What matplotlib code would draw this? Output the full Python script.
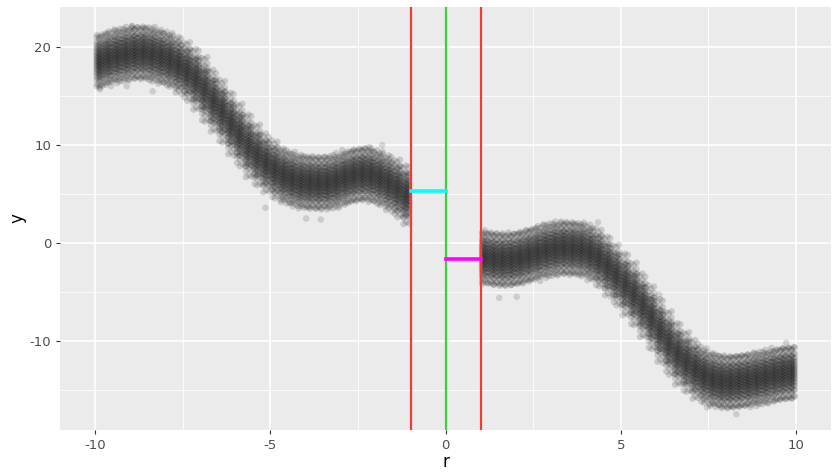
import numpy as np
import matplotlib
matplotlib.use("Agg")
import matplotlib.pyplot as plt

# trend of the point cloud (step 0.25)
x_left = [-10.00, -9.75, -9.50, -9.25, -9.00, -8.75, -8.50, -8.25, -8.00, -7.75,
          -7.50, -7.25, -7.00, -6.75, -6.50, -6.25, -6.00, -5.75, -5.50, -5.25,
          -5.00, -4.75, -4.50, -4.25, -4.00, -3.75, -3.50, -3.25, -3.00, -2.75,
          -2.50, -2.25, -2.00, -1.75, -1.50, -1.25, -1.00]
y_left = [18.4, 18.7, 19.0, 19.2, 19.4, 19.5, 19.4, 19.1, 18.9, 18.5,
          17.9, 17.2, 16.3, 15.0, 14.0, 12.8, 11.6, 10.5, 9.4, 8.5,
          7.8, 7.1, 6.7, 6.4, 6.2, 6.1, 6.1, 6.2, 6.5, 6.8,
          7.0, 7.0, 6.8, 6.4, 5.9, 5.3, 4.6]
x_right = [1.00, 1.25, 1.50, 1.75, 2.00, 2.25, 2.50, 2.75, 3.00, 3.25,
           3.50, 3.75, 4.00, 4.25, 4.50, 4.75, 5.00, 5.25, 5.50, 5.75,
           6.00, 6.25, 6.50, 6.75, 7.00, 7.25, 7.50, 7.75, 8.00, 8.25,
           8.50, 8.75, 9.00, 9.25, 9.50, 9.75, 10.00]
y_right = [-1.4, -1.6, -1.7, -1.7, -1.6, -1.4, -1.2, -0.9, -0.7, -0.5,
           -0.5, -0.6, -0.8, -1.2, -1.9, -2.8, -3.7, -4.7, -5.8, -7.0,
           -8.3, -9.6, -10.8, -11.8, -12.6, -13.3, -13.8, -14.1, -14.2, -14.2,
           -14.1, -14.0, -13.8, -13.6, -13.4, -13.3, -13.3]

# spread of the cloud around the trend
spread_dx = [-0.2, -0.12, -0.04, 0.04, 0.12, 0.2]
stagger_dy = [0.0, 0.21, 0.07, 0.28, 0.14, 0.35]
spread_dy = [-2.5, -1.85, -1.4, -1.05, -0.72, -0.43, -0.14, 0.14, 0.43, 0.72, 1.05, 1.4, 1.85, 2.5]

# stray points outside the main band
out_x = [-9.86, -9.1, -8.36, -8.95, -5.14, -3.98, -3.56, -1.81, -2.18,
         1.53, 2.03, 4.35, 6.1, 9.72, 8.3, 7.46]
out_y = [15.7, 16.0, 15.5, 22.1, 3.6, 2.5, 2.4, 10.0, 9.8,
         -5.6, -5.5, 2.1, -5.3, -10.2, -17.5, -16.8]

cutoff = 1.0
left_fit = 5.3
right_fit = -1.6

xs = np.concatenate([x_left, x_right])
ys = np.concatenate([y_left, y_right])
px, py = [], []
for j in range(len(xs)):
    for k in range(len(spread_dx)):
        xx = xs[j] + spread_dx[k]
        if abs(xx) < cutoff or abs(xx) > 10:
            continue
        sh = stagger_dy[(k + j) % len(stagger_dy)]
        for d in spread_dy:
            px.append(xx)
            py.append(ys[j] + d + sh - 0.17)

plt.rcParams['axes.unicode_minus'] = False

fig = plt.figure(figsize=(8.36, 4.74), dpi=100)
ax = fig.add_axes([0.072, 0.093, 0.922, 0.892])
ax.set_facecolor("#EBEBEB")

for v in [-7.5, -2.5, 2.5, 7.5]:
    ax.axvline(v, color="white", lw=0.6, zorder=0)
for v in [15, 5, -5, -15]:
    ax.axhline(v, color="white", lw=0.6, zorder=0)
for v in [-10, -5, 0, 5, 10]:
    ax.axvline(v, color="white", lw=1.2, zorder=0)
for v in [20, 10, 0, -10]:
    ax.axhline(v, color="white", lw=1.2, zorder=0)

ax.scatter(px, py, s=22, color="black", alpha=0.15, edgecolors="none", zorder=2)
ax.scatter(out_x, out_y, s=22, color="black", alpha=0.13, edgecolors="none", zorder=2)

ax.axvline(-cutoff, color="#F03C34", lw=1.6, zorder=3)
ax.axvline(cutoff, color="#F03C34", lw=1.6, zorder=3)
ax.axvline(0, color="#3CD03C", lw=1.6, zorder=3)
ax.plot([-cutoff, 0], [left_fit, left_fit], color="#00FFFF", lw=2.6, zorder=4)
ax.plot([0, cutoff], [right_fit, right_fit], color="#FF00FF", lw=2.6, zorder=4)

ax.set_xlim(-11, 11)
ax.set_ylim(-19.1, 24.1)
ax.set_xticks([-10, -5, 0, 5, 10])
ax.set_yticks([-10, 0, 10, 20])
ax.tick_params(colors="#333333", labelcolor="#4D4D4D", labelsize=9.5, length=3, width=0.8)
for s in ax.spines.values():
    s.set_visible(False)
ax.set_xlabel("r", fontsize=12, labelpad=1)
ax.set_ylabel("y", fontsize=12, labelpad=2)

fig.savefig("out.png", dpi=100)
